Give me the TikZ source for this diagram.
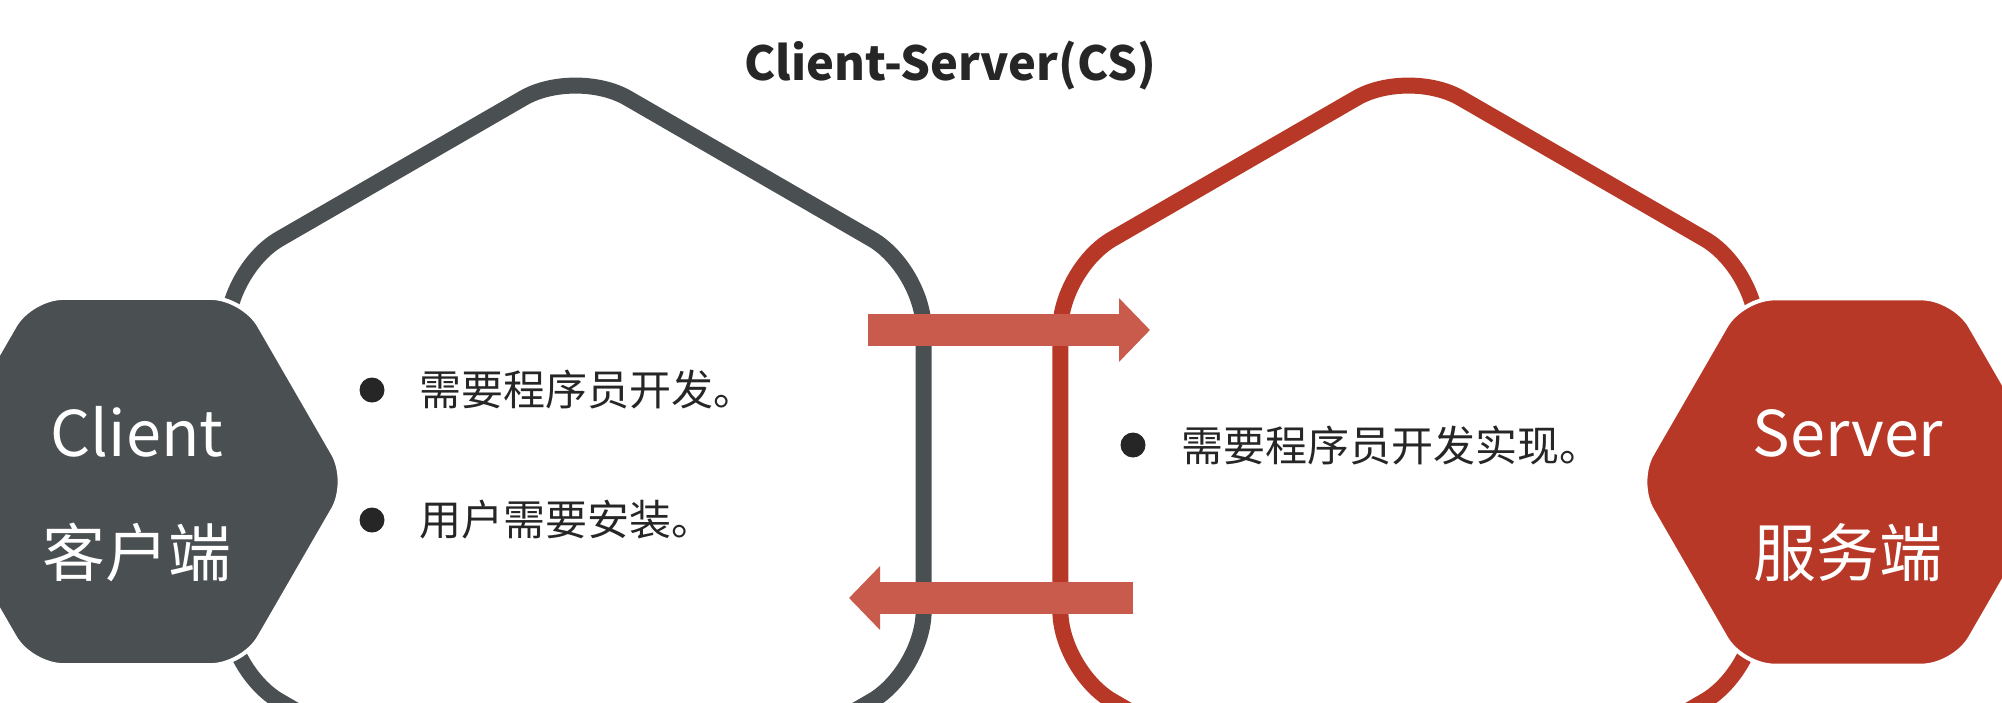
\documentclass[tikz,border=0pt]{standalone}
\usepackage{fontspec}
\setmainfont{Noto Sans CJK SC}
\usepackage{tikz}
\usetikzlibrary{shapes.geometric, arrows.meta}
\usetikzlibrary{positioning}

\providecommand{\HouseSize}{804}
\providecommand{\HexSize}{424}

\definecolor{clientgray}{HTML}{4A4F51}
\definecolor{serverred}{HTML}{B83827}
\definecolor{flowred}{HTML}{C85B4B}
\definecolor{textdark}{HTML}{262626}

\begin{document}
\begin{tikzpicture}[x=1pt, y=-1pt, font=\fontsize{42}{50}\selectfont, text=textdark,
  house/.style={regular polygon, regular polygon sides=6, shape border rotate=30,
    minimum size=\HouseSize pt, inner sep=0pt, line width=16pt, rounded corners=60pt},
  hexbox/.style={regular polygon, regular polygon sides=6, minimum size=\HexSize pt,
    inner sep=0pt, draw=white, line width=4pt, rounded corners=32pt},
  hexlabel/.style={text=white, align=center, inner sep=0pt, font=\fontsize{63}{120}\selectfont},
  dot/.style={circle, fill=textdark, minimum size=25pt, inner sep=0pt},
  note/.style={inner sep=0pt, anchor=west},
  flow/.style={draw=flowred, line width=32pt, -{Triangle[length=31pt, width=62pt]}}]

\clip (0,0) rectangle (2002,702);

% Title
\node[font=\fontsize{47}{56}\selectfont\bfseries] (title) at (950,66) {Client-Server(CS)};

% Houses (client side and server side)
\node[house, draw=clientgray] (client house) at (575.5,470) {};
\node[house, draw=serverred] (server house) at (1408.5,470) {};

% Request and response
\coordinate (req from) at (868,330);
\coordinate (req to) at (1150,330);
\coordinate (resp from) at (1133,598);
\coordinate (resp to) at (849,598);
\draw[flow] (req from) -- (req to);
\draw[flow] (resp from) -- (resp to);

% Client and server hexagons
\node[hexbox, fill=clientgray] (client) at (137,481.5) {};
\node[hexbox, fill=serverred] (server) at (1848,482) {};
\node[hexlabel] (client text) at ([yshift=-13pt]client.center) {Client\\客户端};
\node[hexlabel] (server text) at ([yshift=-14pt]server.center) {Server\\服务端};

% Client notes
\foreach \y/\txt [count=\i] in {390/需要程序员开发。, 520/用户需要安装。}
{
  \node[dot] (cdot\i) at (372,\y) {};
  \node[note, right=35pt of cdot\i] (cnote\i) {\txt};
}

% Server note
\node[dot] (sdot) at (1133,445) {};
\node[note, right=36pt of sdot] (snote) {需要程序员开发实现。};

\end{tikzpicture}
\end{document}
